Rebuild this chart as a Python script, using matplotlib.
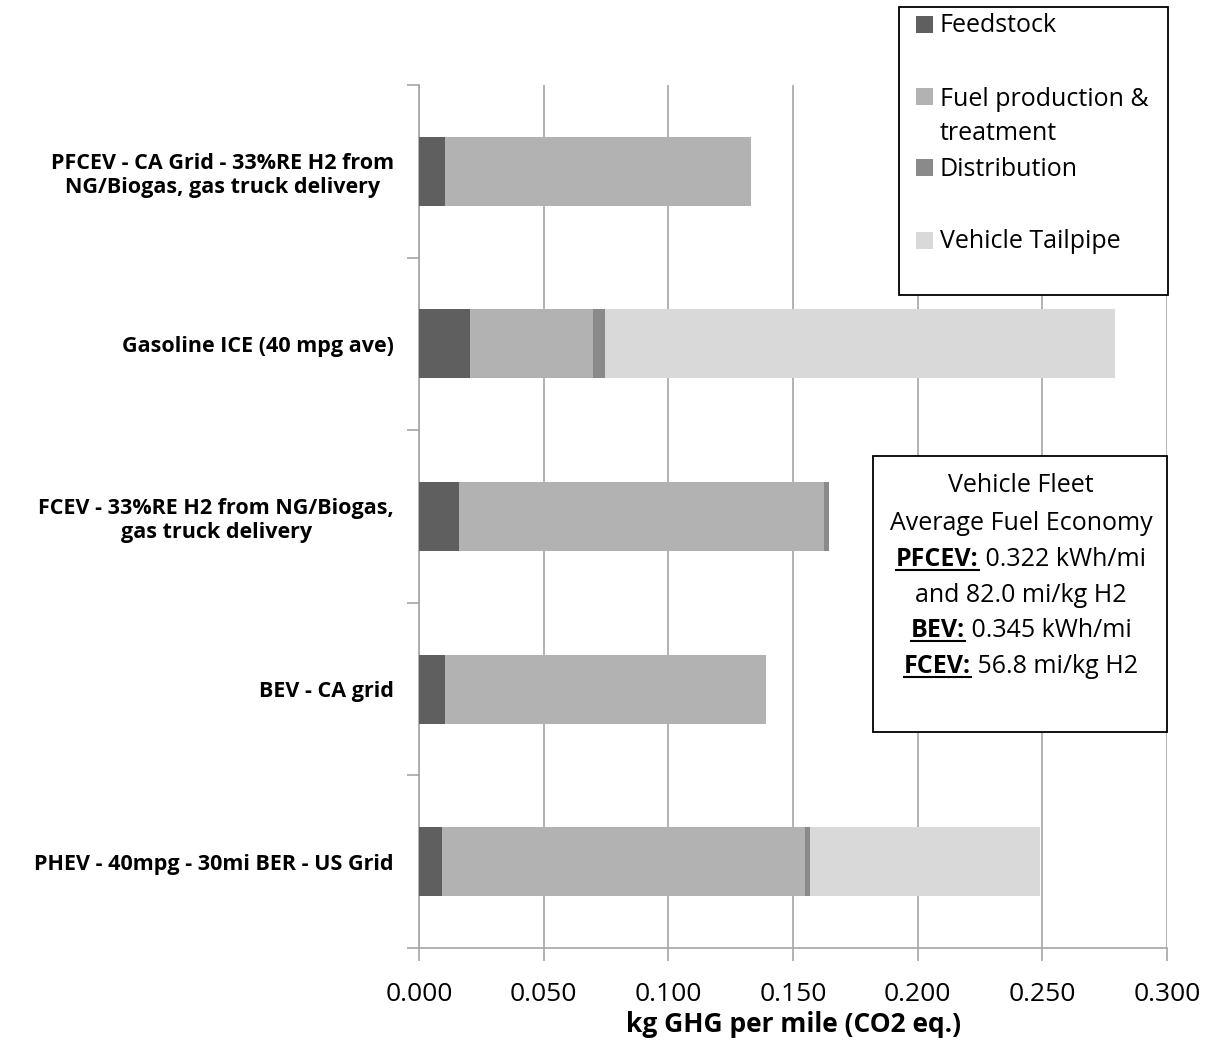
import matplotlib
matplotlib.use("Agg")
import matplotlib.pyplot as plt
from matplotlib.patches import Rectangle
from matplotlib.lines import Line2D
import numpy as np

plt.rcParams['font.family'] = ['Open Sans', 'DejaVu Sans']

# categories listed top to bottom as in the chart
vehicles = [
    "PFCEV - CA Grid - 33%RE H2 from\nNG/Biogas, gas truck delivery",
    "Gasoline ICE (40 mpg ave)",
    "FCEV - 33%RE H2 from NG/Biogas,\ngas truck delivery",
    "BEV - CA grid",
    "PHEV - 40mpg - 30mi BER - US Grid",
]
feedstock = [0.0104, 0.0205, 0.0160, 0.0104, 0.0092]
fuel_production = [0.1226, 0.0493, 0.1464, 0.1286, 0.1455]
distribution = [0.0, 0.0048, 0.0019, 0.0, 0.0022]
tailpipe = [0.0, 0.2044, 0.0, 0.0, 0.0921]

stage_names = ["Feedstock", "Fuel production &\ntreatment", "Distribution", "Vehicle Tailpipe"]
stage_colors = ["#5f5f5f", "#b2b2b2", "#8a8a8a", "#d9d9d9"]

W, H = 1214, 1042
fig = plt.figure(figsize=(W / 100, H / 100), dpi=100)
ax = fig.add_axes([419 / W, 1 - 948 / H, (1167 - 419) / W, (948 - 85) / H])

ypos = np.arange(len(vehicles))[::-1]
left = np.zeros(len(vehicles))
for vals, col in zip([feedstock, fuel_production, distribution, tailpipe], stage_colors):
    ax.barh(ypos, vals, left=left, height=0.4, color=col, edgecolor='none', zorder=3)
    left += np.array(vals)

ax.set_xlim(0, 0.3)
ax.set_ylim(-0.5, len(vehicles) - 0.5)
xt = np.arange(0, 0.301, 0.05)
ax.set_xticks(xt)
ax.set_xticklabels([f"{v:.3f}" for v in xt], fontsize=19)
ax.xaxis.grid(True, color='#a6a6a6', linewidth=1.2, zorder=0)
ax.tick_params(axis='x', length=9, color='#a6a6a6', width=1.2, pad=15.5)

ax.set_yticks(np.arange(-0.5, len(vehicles), 1.0))
ax.set_yticklabels([])
ax.tick_params(axis='y', which='major', length=9, color='#a6a6a6', width=1.2)
ax.set_yticks(ypos, minor=True)
ax.set_yticklabels(vehicles, minor=True, fontsize=15.5, fontweight='bold', multialignment='center')
ax.tick_params(axis='y', which='minor', length=0, pad=18)

for s in ['top', 'right']:
    ax.spines[s].set_visible(False)
for s in ['left', 'bottom']:
    ax.spines[s].set_color('#a6a6a6')
    ax.spines[s].set_linewidth(1.2)

ax.set_xlabel("kg GHG per mile (CO2 eq.)", fontsize=19, fontweight='bold', labelpad=3)

# legend box
fig.add_artist(Rectangle((899 / W, 1 - 295 / H), (1168 - 899) / W, (295 - 7) / H,
                         transform=fig.transFigure, facecolor='white', edgecolor='black', lw=1.3))
legend_y = [25, 97, 168, 241]
for name, col, y in zip(stage_names, stage_colors, legend_y):
    fig.add_artist(Rectangle((916 / W, 1 - (y + 8) / H), 17 / W, 17 / H,
                             transform=fig.transFigure, facecolor=col, edgecolor='none'))
    if '\n' in name:
        fig.text(940 / W, 1 - (y - 10) / H, name, fontsize=18, va='top', linespacing=1.5)
    else:
        fig.text(940 / W, 1 - (y + 1) / H, name, fontsize=18, va='center')

# fuel economy box
fig.add_artist(Rectangle((873 / W, 1 - 732 / H), (1167 - 873) / W, (732 - 456) / H,
                         transform=fig.transFigure, facecolor='white', edgecolor='black', lw=1.3))
cx = 1021
fs = 18
renderer = fig.canvas.get_renderer()
box_lines = [
    ("", "Vehicle Fleet", 483),
    ("", "Average Fuel Economy", 521),
    ("PFCEV:", "0.322 kWh/mi", 557),
    ("", "and 82.0 mi/kg H2", 593),
    ("BEV:", "0.345 kWh/mi", 628),
    ("FCEV:", "56.8 mi/kg H2", 664),
]
for bold, rest, y in box_lines:
    base = y + 9
    if not bold:
        fig.text(cx / W, 1 - base / H, rest, fontsize=fs, ha='center', va='baseline')
        continue
    t1 = fig.text(0, 1 - base / H, bold, fontsize=fs, fontweight='bold', va='baseline')
    t2 = fig.text(0, 1 - base / H, " " + rest, fontsize=fs, va='baseline')
    w1 = t1.get_window_extent(renderer).width
    w2 = t2.get_window_extent(renderer).width
    x0 = cx - (w1 + w2) / 2
    t1.set_x(x0 / W)
    t2.set_x((x0 + w1) / W)
    fig.add_artist(Line2D([x0 / W, (x0 + w1) / W], [1 - (base + 4) / H] * 2,
                          transform=fig.transFigure, color='black', lw=1.5))

fig.savefig("out.png", dpi=100)
